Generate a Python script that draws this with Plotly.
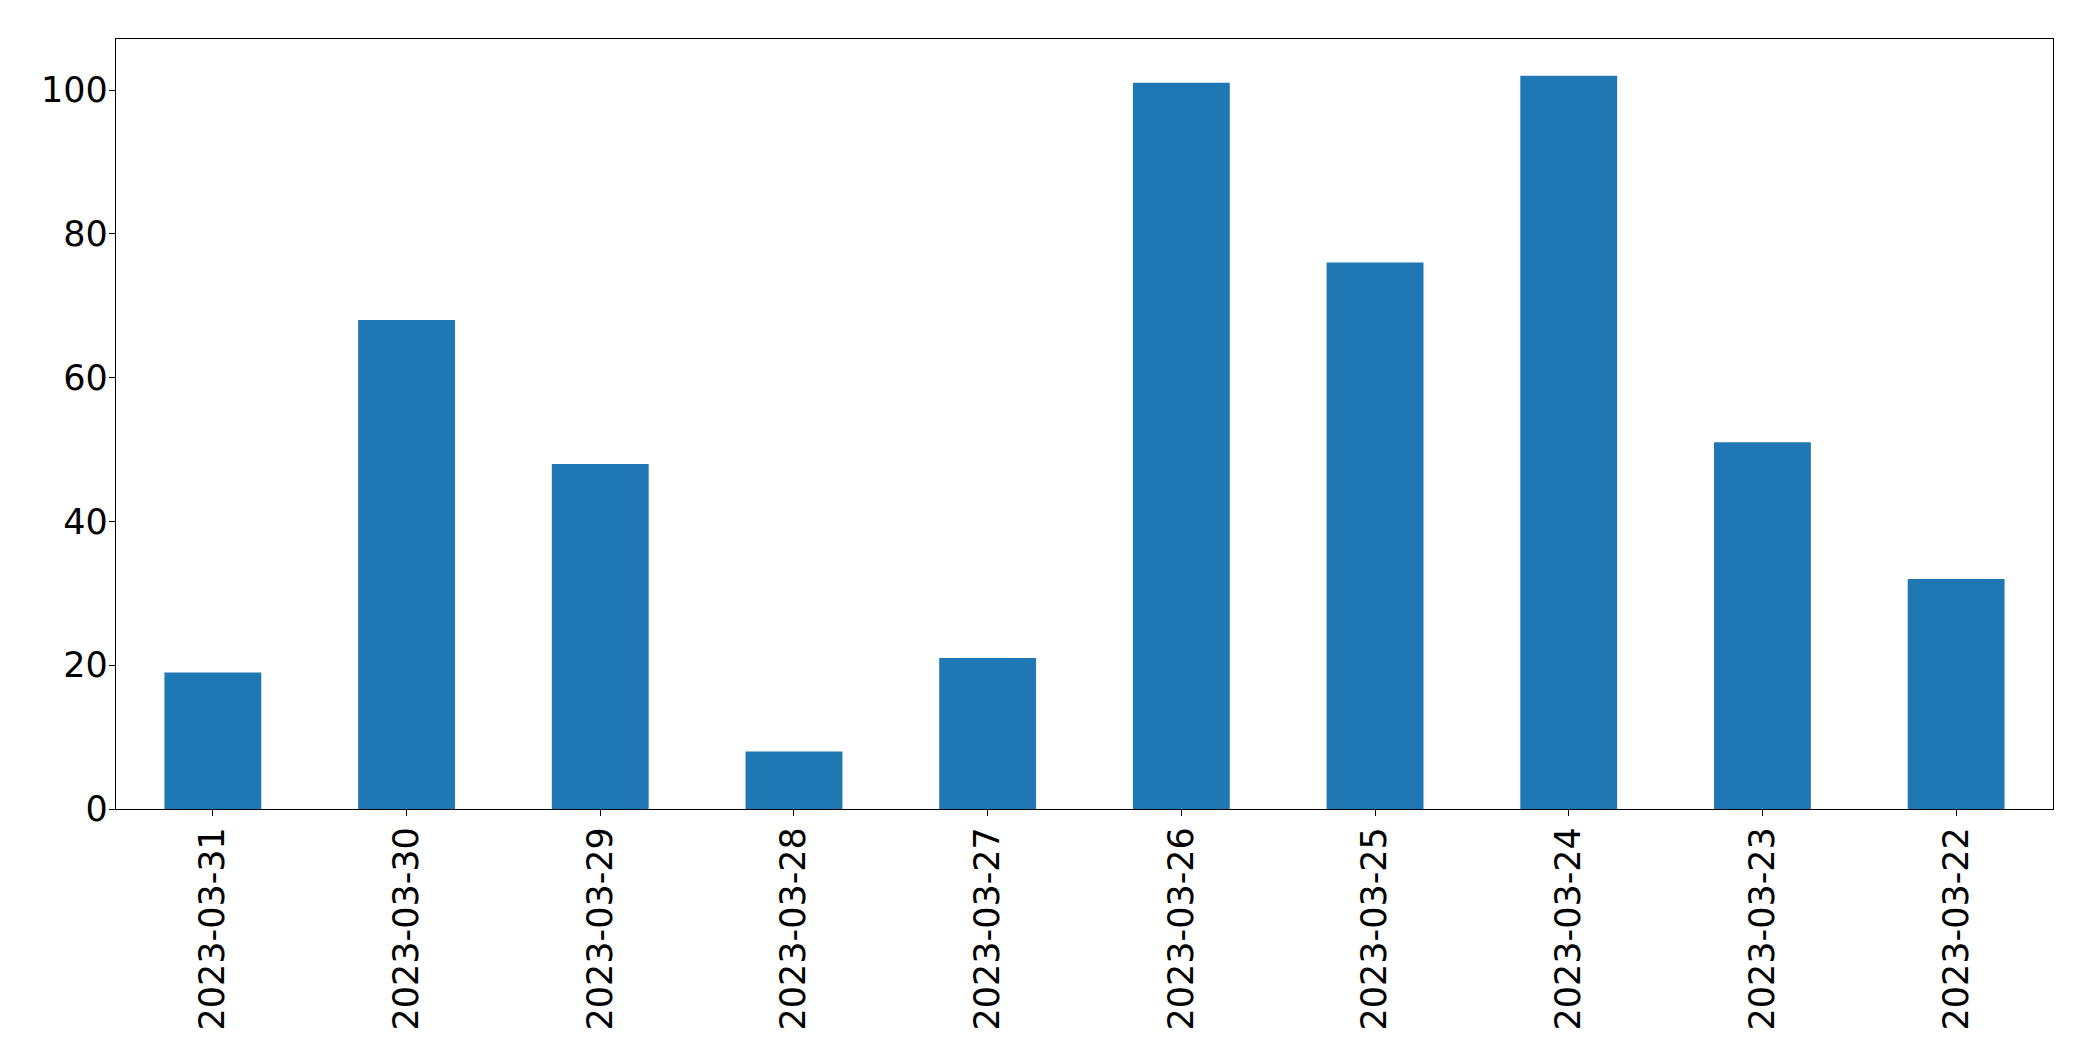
import plotly.graph_objects as go

dates = ["2023-03-31", "2023-03-30", "2023-03-29", "2023-03-28", "2023-03-27",
         "2023-03-26", "2023-03-25", "2023-03-24", "2023-03-23", "2023-03-22"]
counts = [19, 68, 48, 8, 21, 101, 76, 102, 51, 32]
y_ticks = [0, 20, 40, 60, 80, 100]

fig = go.Figure(go.Bar(x=list(range(len(dates))), y=counts, width=0.5,
                       marker=dict(color="#1f77b4", line=dict(width=0))))

fig.update_layout(
    width=2077, height=1045,
    margin=dict(l=108, r=32, t=31, b=244),
    paper_bgcolor="white", plot_bgcolor="white",
    font=dict(family="DejaVu Sans", size=35, color="black"),
    showlegend=False,
)
fig.update_xaxes(
    range=[-0.5, len(dates) - 0.5],
    tickmode="array", tickvals=list(range(len(dates))), ticktext=dates,
    tickangle=-90, ticks="outside", ticklen=6, tickwidth=1.3, tickcolor="black",
    ticklabelstandoff=-3,
    showline=True, linecolor="black", linewidth=1.3, mirror=True,
    showgrid=False, zeroline=False,
)
fig.update_yaxes(
    range=[0, max(counts) * 1.05],
    tickmode="array", tickvals=y_ticks,
    ticks="outside", ticklen=6, tickwidth=1.3, tickcolor="black",
    ticklabelstandoff=-6,
    showline=True, linecolor="black", linewidth=1.3, mirror=True,
    showgrid=False, zeroline=False,
)

fig.write_html("out.html")
